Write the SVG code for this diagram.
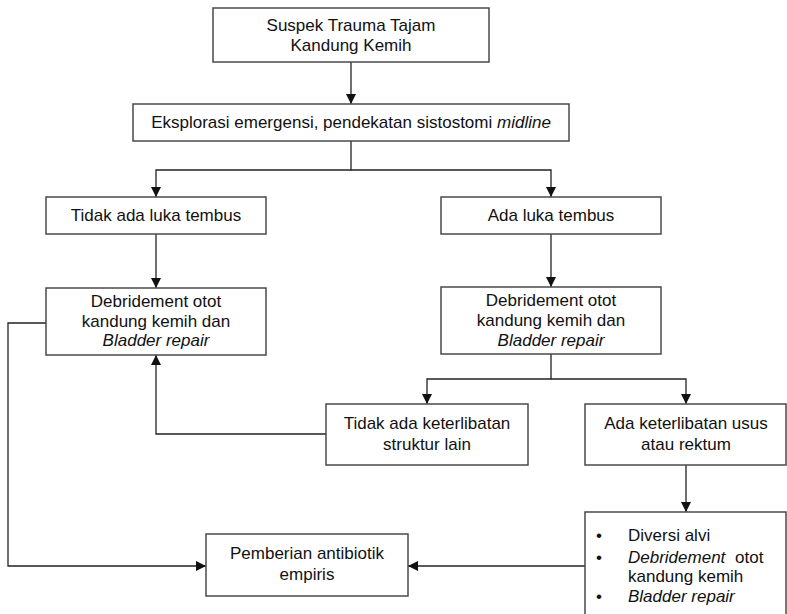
<svg xmlns="http://www.w3.org/2000/svg" width="787" height="614" viewBox="0 0 787 614">
<style>
.box{fill:#fff;stroke:#4a4a4a;stroke-width:1.5}
.t{font-family:"Liberation Sans",Arial,sans-serif;font-size:17px;fill:#111;text-anchor:middle}
.l{text-anchor:start}
.i{font-style:italic}
.c{fill:none;stroke:#222;stroke-width:1.3}
</style>
<defs>
<marker id="ah" viewBox="0 0 10 10" refX="10" refY="5" markerWidth="10" markerHeight="10" markerUnits="userSpaceOnUse" orient="auto">
<path d="M0,0 L10,5 L0,10 z" fill="#111"/>
</marker>
</defs>
<rect width="787" height="614" fill="#fff"/>
<g id="connectors">
<path class="c" d="M351,62 V104" marker-end="url(#ah)"/>
<path class="c" d="M351,141 V170 H156 V197" marker-end="url(#ah)"/>
<path class="c" d="M351,170 H551 V197" marker-end="url(#ah)"/>
<path class="c" d="M156,234 V288" marker-end="url(#ah)"/>
<path class="c" d="M551,234 V287" marker-end="url(#ah)"/>
<path class="c" d="M551,354 V379 H427 V404" marker-end="url(#ah)"/>
<path class="c" d="M551,379 H686 V404" marker-end="url(#ah)"/>
<path class="c" d="M326,434 H156 V355" marker-end="url(#ah)"/>
<path class="c" d="M686,465 V512" marker-end="url(#ah)"/>
<path class="c" d="M46,323 H8 V566 H206" marker-end="url(#ah)"/>
<path class="c" d="M585,566 H408" marker-end="url(#ah)"/>
</g>
<g id="n1">
<rect class="box" x="213" y="8" width="276" height="54"/>
<text class="t" x="351" y="31">Suspek Trauma Tajam</text>
<text class="t" x="351" y="51">Kandung Kemih</text>
</g>
<g id="n2">
<rect class="box" x="133" y="104" width="436" height="37"/>
<text class="t" x="351" y="128">Eksplorasi emergensi, pendekatan sistostomi <tspan class="i">midline</tspan></text>
</g>
<g id="n3">
<rect class="box" x="46" y="197" width="220" height="37"/>
<text class="t" x="156" y="221">Tidak ada luka tembus</text>
</g>
<g id="n4">
<rect class="box" x="441" y="197" width="220" height="37"/>
<text class="t" x="551" y="221">Ada luka tembus</text>
</g>
<g id="n5">
<rect class="box" x="46" y="288" width="220" height="67"/>
<text class="t" x="156" y="307">Debridement otot</text>
<text class="t" x="156" y="327">kandung kemih dan</text>
<text class="t i" x="156" y="346">Bladder repair</text>
</g>
<g id="n6">
<rect class="box" x="441" y="287" width="220" height="67"/>
<text class="t" x="551" y="306">Debridement otot</text>
<text class="t" x="551" y="326">kandung kemih dan</text>
<text class="t i" x="551" y="346">Bladder repair</text>
</g>
<g id="n7">
<rect class="box" x="326" y="404" width="202" height="61"/>
<text class="t" x="427" y="429">Tidak ada keterlibatan</text>
<text class="t" x="427" y="450">struktur lain</text>
</g>
<g id="n8">
<rect class="box" x="585" y="404" width="201" height="61"/>
<text class="t" x="686" y="429">Ada keterlibatan usus</text>
<text class="t" x="686" y="450">atau rektum</text>
</g>
<g id="n9">
<rect class="box" x="585" y="512" width="201" height="110"/>
<text class="t l" x="596" y="541">•</text>
<text class="t l" x="628" y="541">Diversi alvi</text>
<text class="t l" x="596" y="563">•</text>
<text class="t l" x="628" y="563"><tspan class="i">Debridement</tspan><tspan dx="5"> otot</tspan></text>
<text class="t l" x="628" y="582">kandung kemih</text>
<text class="t l" x="596" y="602">•</text>
<text class="t l i" x="628" y="602">Bladder repair</text>
</g>
<g id="n10">
<rect class="box" x="206" y="534" width="202" height="62"/>
<text class="t" x="307" y="559">Pemberian antibiotik</text>
<text class="t" x="307" y="580">empiris</text>
</g>
</svg>
